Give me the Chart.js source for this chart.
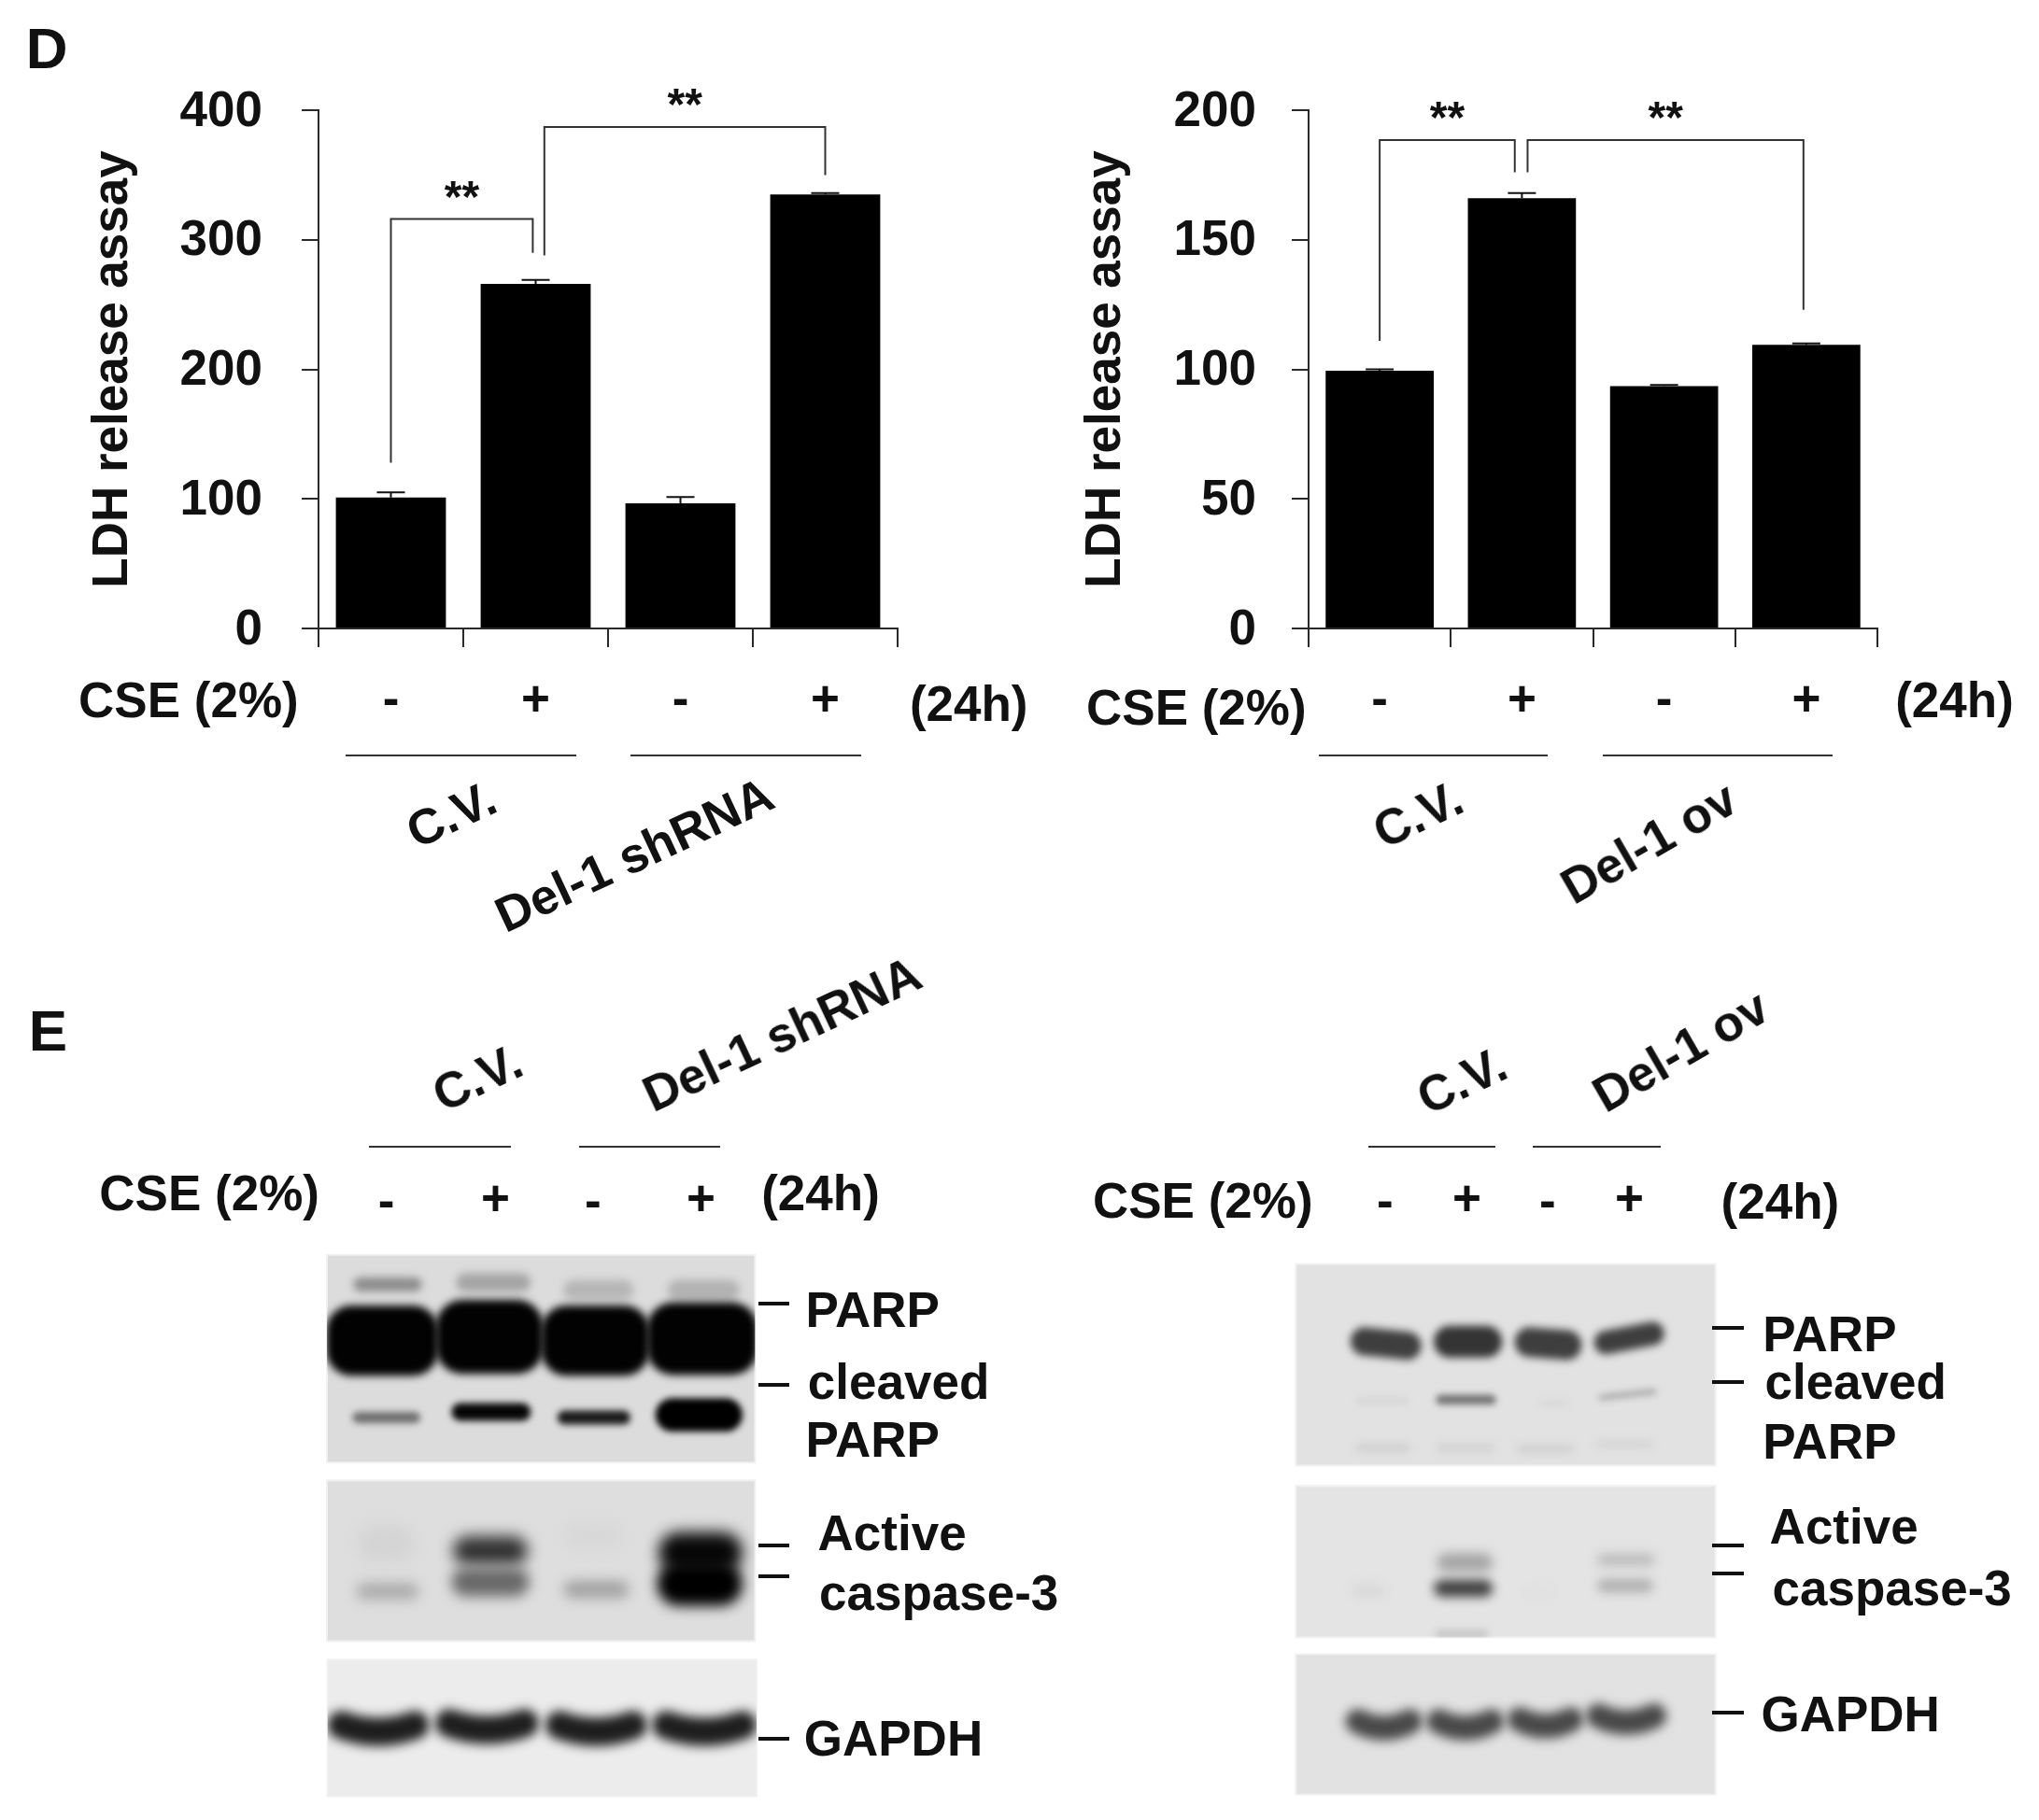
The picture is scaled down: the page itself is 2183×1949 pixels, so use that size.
<!DOCTYPE html>
<html><head><meta charset="utf-8">
<script src="https://cdn.jsdelivr.net/npm/chart.js@4"></script>
<style>
html,body{margin:0;padding:0;background:#fff;}
#page{position:relative;width:2183px;height:1949px;overflow:hidden;background:#fff;filter:blur(0.6px);}
canvas{position:absolute;}
.t{position:absolute;white-space:nowrap;font:bold 53px "Liberation Sans",Arial,sans-serif;color:#111;line-height:1;}
</style></head><body>
<div id="page">
<canvas id="blots" style="left:0;top:0"></canvas>
<canvas id="chartL" style="left:0;top:0"></canvas>
<canvas id="chartR" style="left:1100px;top:0"></canvas>
</div>
<script>
// ---- chart data ----
const cseLabels = ['-', '+', '-', '+'];
const shrnaValues = [101, 266, 96.5, 335];
const shrnaErrors = [4, 3, 5, 1];
const shrnaTicks = [0, 100, 200, 300, 400];
const ovValues = [99.5, 166, 93.5, 109.5];
const ovErrors = [0.5, 2, 0.5, 0.5];
const ovTicks = [0, 50, 100, 150, 200];
const yTitle = 'LDH release assay';
// significance brackets: from category, to category, level, end of left drop, end of right drop
const shrnaBrackets = [[0, 0.98, 316, 128, 290], [1.06, 3, 387, 288, 350]];
const ovBrackets = [[0, 0.95, 188.5, 111, 176], [1.04, 2.98, 188.5, 176, 123]];
// blot band darkness per lane (grey level, 0 = black, 255 = white)
const lParpUpper = [140, 165, 182, 178];
const lParpMain = [2, 2, 2, 2];
const lParpCleaved = [110, 5, 25, 0];
const lCaspUpper = [212, 50, 216, 8];
const lCaspLower = [170, 105, 160, 0];
const lGapdh = [30, 30, 30, 30];
const rParpMain = [62, 52, 62, 62];
const rParpCleaved = [212, 112, 214, 172];
const rParpLower = [208, 210, 208, 212];
const rCaspUpper = [226, 165, 226, 184];
const rCaspLower = [214, 66, 222, 176];
const rGapdh = [72, 72, 72, 72];

const FONT = '"Liberation Sans",Arial,sans-serif';
const INK = '#2a2a2a';
const TXT = 53;

// error bars and brackets, read through the chart's own scales
function annotate(errors, brackets) {
  return { id: 'annot', afterDatasetsDraw(c) {
    const x = c.scales.x, y = c.scales.y, g = c.ctx;
    g.save();
    g.strokeStyle = '#111'; g.lineWidth = 2;
    errors.forEach((e, i) => {
      const v = c.data.datasets[0].data[i], px = x.getPixelForValue(i);
      g.beginPath();
      g.moveTo(px, y.getPixelForValue(v)); g.lineTo(px, y.getPixelForValue(v + e));
      g.moveTo(px - 15, y.getPixelForValue(v + e)); g.lineTo(px + 15, y.getPixelForValue(v + e));
      g.stroke();
    });
    g.strokeStyle = '#333';
    g.fillStyle = '#111'; g.font = 'bold 48px ' + FONT; g.textAlign = 'center'; g.textBaseline = 'alphabetic';
    brackets.forEach(b => {
      const a = x.getPixelForValue(b[0]), d = x.getPixelForValue(b[1]), t = y.getPixelForValue(b[2]);
      g.beginPath();
      g.moveTo(a, y.getPixelForValue(b[3])); g.lineTo(a, t); g.lineTo(d, t); g.lineTo(d, y.getPixelForValue(b[4]));
      g.stroke();
      g.fillText('**', (a + d) / 2, t - 8);
    });
    g.restore();
  }};
}

function barChart(id, w, h, area, titlePad, tickPad, values, errors, brackets, yMax, yStep) {
  return new Chart(document.getElementById(id), {
    type: 'bar',
    data: { labels: cseLabels, datasets: [{ data: values, backgroundColor: '#000', borderWidth: 0,
      barPercentage: 0.76, categoryPercentage: 1 }] },
    plugins: [annotate(errors, brackets)],
    options: {
      responsive: false, animation: false, devicePixelRatio: 1,
      layout: { padding: { top: area.top, right: w - area.right, left: 0, bottom: 0 } },
      plugins: { legend: { display: false }, tooltip: { enabled: false } },
      scales: {
        x: { type: 'category', offset: true,
          border: { color: INK, width: 2 },
          grid: { offset: true, drawOnChartArea: false, color: INK, lineWidth: 2, tickLength: 20 },
          ticks: { color: '#111', font: { family: FONT, size: TXT, weight: 'bold' }, padding: 27, maxRotation: 0, autoSkip: false },
          afterFit(s) { s.height = h - area.bottom; } },
        y: { min: 0, max: yMax,
          border: { color: INK, width: 2 },
          grid: { drawOnChartArea: false, color: INK, lineWidth: 2, tickLength: 18 },
          ticks: { stepSize: yStep, color: '#111', font: { family: FONT, size: TXT, weight: 'bold' }, padding: tickPad, labelOffset: 2 },
          title: { display: true, text: yTitle, color: '#111', font: { family: FONT, size: TXT, weight: 'bold' }, padding: { top: titlePad, bottom: 0 } },
          afterFit(s) { s.width = area.left; } }
      }
    }
  });
}
function size(id, w, h) { const c = document.getElementById(id); c.width = w; c.height = h; c.style.width = w + 'px'; c.style.height = h + 'px'; }
size('chartL', 1100, 800); size('chartR', 1083, 800); size('blots', 2183, 1949);

barChart('chartL', 1100, 800, { left: 341, top: 118, right: 961, bottom: 673 }, 90, 42, shrnaValues, shrnaErrors, shrnaBrackets, shrnaTicks[shrnaTicks.length - 1], 100);
barChart('chartR', 1083, 800, { left: 301, top: 118, right: 910, bottom: 673 }, 53, 38, ovValues, ovErrors, ovBrackets, ovTicks[ovTicks.length - 1], 50);

// ---- blots (panel layout given in zoomed-crop units) ----
const KX = 1 / 3, KY = 620 / 1566;
const L = (x, y) => [320 + x * KX, 1320 + y * KY];
const R = (x, y) => [1360 + x * KX, 1320 + y * KY];
const leftLanes = [[175, 395], [505, 745], [850, 1075], [1185, 1415]];
const rightLanes = [[258, 485], [525, 745], [785, 1000], [1040, 1265]];
const blotSpec = [
  { map: L, box: [90, 60, 1465, 622], bg: 220, rows: [
    { g: lParpUpper, x: leftLanes, y: [140, 135, 155, 155], h: [38, 50, 54, 54], blur: 4 },
    { g: lParpMain, x: [[88, 448], [440, 785], [778, 1126], [1118, 1474]], y: [292, 282, 292, 287], h: [190, 200, 190, 196], blur: 4, r: 0.72 },
    { g: lParpCleaved, x: [[172, 390], [490, 745], [830, 1065], [1145, 1425]], y: [500, 485, 500, 493], h: [30, 48, 38, 90], blur: 3.5 } ] },
  { map: L, box: [90, 670, 1465, 1105], bg: 222, rows: [
    { g: lCaspUpper, x: [[190, 370], [495, 735], [850, 1040], [1155, 1425]], y: [840, 860, 820, 865], h: [100, 78, 70, 110], blur: 8 },
    { g: lCaspLower, x: [[185, 385], [490, 740], [850, 1060], [1150, 1425]], y: [970, 945, 965, 950], h: [44, 78, 46, 120], blur: 7 } ] },
  { map: L, box: [92, 1155, 1470, 1525], bg: 236, rows: [
    { g: lGapdh, x: [[92, 418], [438, 770], [792, 1118], [1135, 1470]], y: [1345, 1340, 1345, 1345], h: [76, 76, 76, 76], sag: 26, blur: 6 } ] },
  { map: R, box: [82, 85, 1430, 630], bg: 226, rows: [
    { g: rParpMain, x: rightLanes, y: [300, 295, 300, 285], h: [76, 86, 80, 64], tilt: [6, 0, 4, -12], blur: 4 },
    { g: rParpCleaved, x: [[275, 445], [532, 725], [865, 960], [1055, 1240]], y: [455, 452, 462, 438], h: [16, 26, 14, 16], tilt: [0, 0, 0, -8], blur: 3.5 },
    { g: rParpLower, x: [[275, 450], [535, 720], [790, 975], [1045, 1230]], y: [582, 582, 585, 572], h: [24, 24, 22, 20], blur: 4 } ] },
  { map: R, box: [82, 685, 1430, 1095], bg: 228, rows: [
    { g: rCaspUpper, x: [[270, 360], [535, 715], [830, 900], [1050, 1235]], y: [960, 892, 965, 885], h: [20, 50, 12, 30], blur: 6 },
    { g: rCaspLower, x: [[265, 365], [525, 715], [810, 900], [1050, 1230]], y: [970, 962, 975, 955], h: [26, 46, 10, 36], blur: 5.5 },
    { g: [255, 196, 255, 255], x: [[0, 0], [530, 700], [0, 0], [0, 0]], y: [0, 1085, 0, 0], h: [0, 20, 0, 0], blur: 3.5 } ] },
  { map: R, box: [82, 1140, 1430, 1520], bg: 226, rows: [
    { g: rGapdh, x: [[242, 488], [502, 750], [762, 1005], [1015, 1272]], y: [1335, 1335, 1330, 1320], h: [66, 66, 66, 66], sag: 26, blur: 6 } ] }
];
const groupLines = [[370, 617, 809], [675, 922, 809], [1412, 1657, 809], [1716, 1962, 809],
                    [395, 547, 1228], [620, 771, 1228], [1465, 1601, 1228], [1641, 1778, 1228]];
const sideMarks = [[812, 845, 1396], [812, 845, 1483], [812, 845, 1655], [812, 845, 1688], [812, 845, 1862],
                   [1833, 1867, 1422], [1833, 1867, 1480], [1833, 1867, 1655], [1833, 1867, 1685], [1833, 1867, 1834]];

const blotPlugin = { id: 'blotPainter', beforeDatasetsDraw(c) {
  const g = c.ctx, X = v => c.scales.x.getPixelForValue(v), Y = v => c.scales.y.getPixelForValue(v);
  blotSpec.forEach(p => {
    const a = p.map(p.box[0], p.box[1]), b = p.map(p.box[2], p.box[3]);
    const x0 = X(a[0]), y0 = Y(a[1]), w = X(b[0]) - x0, h = Y(b[1]) - y0;
    g.save();
    g.fillStyle = '#f1f1f1'; g.fillRect(x0 - 1, y0 - 1, w + 2, h + 2);
    g.fillStyle = `rgb(${p.bg},${p.bg},${p.bg})`; g.fillRect(x0 + 1, y0 + 1, w - 2, h - 2);
    g.beginPath(); g.rect(x0, y0, w, h); g.clip();
    p.rows.forEach(r => r.g.forEach((lv, i) => {
      if (!r.h[i]) return;
      const s = p.map(r.x[i][0], r.y[i]), e = p.map(r.x[i][1], r.y[i]);
      const bh = r.h[i] * KY, col = `rgb(${lv},${lv},${lv})`;
      g.filter = `blur(${r.blur}px)`;
      if (r.r) {
        g.fillStyle = col; g.beginPath();
        g.roundRect(X(s[0]), Y(s[1]) - bh / 2, X(e[0]) - X(s[0]), bh, bh / 2 * r.r); g.fill();
      } else {
        const sag = (r.sag || 0) * KY, tilt = (r.tilt ? r.tilt[i] : 0) * KY, inset = Math.min(bh / 2, (X(e[0]) - X(s[0])) / 2 - 1);
        const xa = X(s[0]) + inset, xb = X(e[0]) - inset, yc = Y(s[1]);
        g.strokeStyle = col; g.lineWidth = bh; g.lineCap = 'round';
        g.beginPath(); g.moveTo(xa, yc - sag / 2 - tilt);
        g.quadraticCurveTo((xa + xb) / 2, yc + sag * 0.9, xb, yc - sag / 2 + tilt); g.stroke();
      }
      g.filter = 'none';
    }));
    g.restore();
  });
  g.save();
  g.strokeStyle = '#333'; g.lineWidth = 2;
  groupLines.forEach(l => { g.beginPath(); g.moveTo(X(l[0]), Y(l[2])); g.lineTo(X(l[1]), Y(l[2])); g.stroke(); });
  g.strokeStyle = '#111'; g.lineWidth = 4;
  sideMarks.forEach(l => { g.beginPath(); g.moveTo(X(l[0]), Y(l[2])); g.lineTo(X(l[1]), Y(l[2])); g.stroke(); });
  g.restore();
}};
new Chart(document.getElementById('blots'), {
  type: 'scatter', data: { datasets: [{ data: [] }] }, plugins: [blotPlugin],
  options: { responsive: false, animation: false, devicePixelRatio: 1,
    layout: { padding: 0 },
    plugins: { legend: { display: false }, tooltip: { enabled: false } },
    scales: { x: { type: 'linear', min: 0, max: 2183, display: false }, y: { type: 'linear', min: 0, max: 1949, reverse: true, display: false } } }
});

// ---- real-text annotations (centre positions in page pixels) ----
const S = 2183 / 1568;
const annotations = [
  ['D', 36, 37, 62, 0], ['E', 37, 793, 62, 0],
  ['CSE (2%)', 145, 538, TXT, 0], ['(24h)', 745, 541, TXT, 0], ['CSE (2%)', 920, 544, TXT, 0], ['(24h)', 1503, 538, TXT, 0],
  ['C.V.', 347, 626, TXT, -25], ['Del-1 shRNA', 488, 657, TXT, -25], ['C.V.', 1090, 626, TXT, -25], ['Del-1 ov', 1268, 648, TXT, -30],
  ['C.V.', 367, 829, TXT, -25], ['Del-1 shRNA', 601, 795, TXT, -25], ['C.V.', 1124, 831, TXT, -25], ['Del-1 ov', 1292, 808, TXT, -30],
  ['CSE (2%)', 161, 917, TXT, 0], ['(24h)', 631, 917, TXT, 0], ['CSE (2%)', 925, 923, TXT, 0], ['(24h)', 1369, 924, TXT, 0],
  ['-', 297, 923, TXT, 0], ['+', 381, 921, TXT, 0], ['-', 456, 923, TXT, 0], ['+', 539, 921, TXT, 0],
  ['-', 1065, 923, TXT, 0], ['+', 1128, 921, TXT, 0], ['-', 1190, 923, TXT, 0], ['+', 1253, 921, TXT, 0],
  ['PARP', 671, 1007, TXT, 0], ['cleaved', 691, 1062, TXT, 0], ['PARP', 671, 1107, TXT, 0],
  ['Active', 686, 1179, TXT, 0], ['caspase-3', 722, 1225, TXT, 0], ['GAPDH', 687, 1337, TXT, 0],
  ['PARP', 1407, 1026, TXT, 0], ['cleaved', 1427, 1062, TXT, 0], ['PARP', 1407, 1108, TXT, 0],
  ['Active', 1418, 1174, TXT, 0], ['caspase-3', 1455, 1221, TXT, 0], ['GAPDH', 1423, 1318, TXT, 0]
];
const page = document.getElementById('page');
annotations.forEach(a => {
  const el = document.createElement('span');
  el.className = 't'; el.textContent = a[0];
  el.style.left = (a[1] * S) + 'px'; el.style.top = (a[2] * S) + 'px'; el.style.fontSize = a[3] + 'px';
  el.style.transform = `translate(-50%,-50%) rotate(${a[4]}deg)`;
  page.appendChild(el);
});
</script>
</body></html>
